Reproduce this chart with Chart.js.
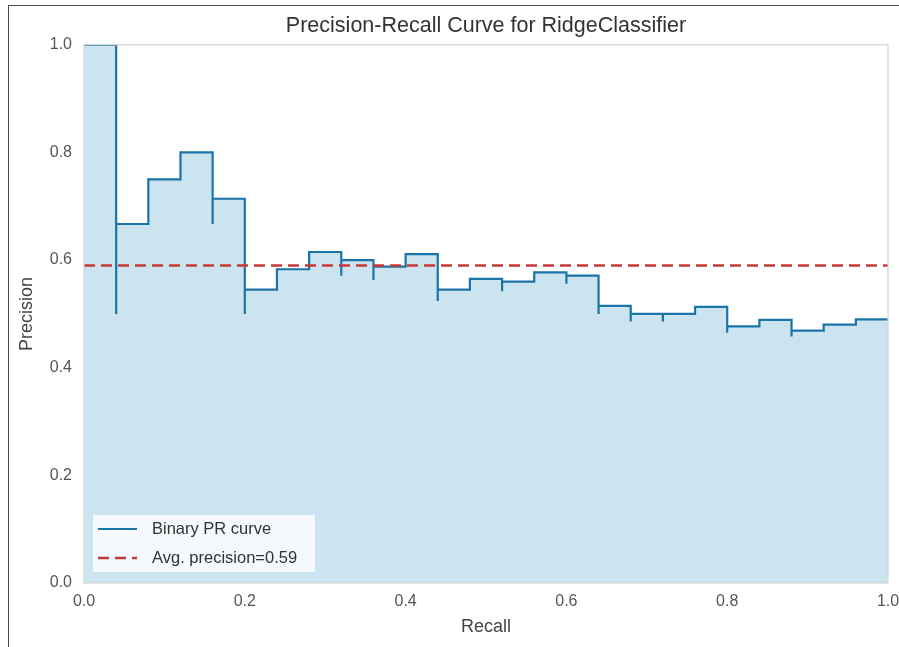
<!DOCTYPE html>
<html lang="en">
<head>
    <meta charset="UTF-8">
    <title>Precision-Recall Curve for RidgeClassifier</title>
    <script src="https://cdn.jsdelivr.net/npm/chart.js"></script>
    <style>
        body { margin: 0; background: #fff; }
        .wrap { position: relative; width: 899px; height: 647px; overflow: hidden; }
        .frame-top { position: absolute; left: 8px; top: 5px; right: 0; height: 1px; background: #4a4a4a; }
        .frame-left { position: absolute; left: 8px; top: 5px; bottom: 0; width: 1px; background: #4a4a4a; }
    </style>
</head>
<body>
    <div class="wrap">
        <canvas id="prChart" width="899" height="647"></canvas>
        <div class="frame-top"></div>
        <div class="frame-left"></div>
    </div>

    <script>
        // PR curve points, left to right (recall, precision)
        const recall = [0, 0.04, 0.04, 0.08, 0.12, 0.16, 0.16, 0.20, 0.20, 0.20, 0.20, 0.24, 0.28, 0.32, 0.32,
            0.36, 0.36, 0.40, 0.44, 0.44, 0.44, 0.44, 0.48, 0.52, 0.52, 0.56, 0.60, 0.60, 0.64, 0.64, 0.64,
            0.64, 0.64, 0.68, 0.68, 0.68, 0.72, 0.72, 0.76, 0.80, 0.80, 0.80, 0.80, 0.80, 0.84, 0.88, 0.88,
            0.88, 0.88, 0.92, 0.96, 1.00];
        const precision = [1.0, 1.0, 0.5, 0.667, 0.75, 0.8, 0.667, 0.714, 0.625, 0.556, 0.5, 0.545, 0.583, 0.615, 0.571,
            0.6, 0.563, 0.588, 0.611, 0.579, 0.55, 0.524, 0.545, 0.565, 0.542, 0.56, 0.577, 0.556, 0.571, 0.552, 0.533,
            0.516, 0.5, 0.515, 0.5, 0.486, 0.5, 0.486, 0.5, 0.513, 0.5, 0.488, 0.476, 0.465, 0.477, 0.489, 0.478,
            0.468, 0.458, 0.469, 0.48, 0.49];

        // average precision line
        const avgRecall = [0, 1];
        const avgPrecision = [0.59, 0.59];

        const tickValues = [0, 0.2, 0.4, 0.6, 0.8, 1.0];
        const legendLabels = ['Binary PR curve', 'Avg. precision=0.59'];

        const FONT = '"Liberation Sans", Arial, sans-serif';
        const BLUE = '#1b74a8';
        const RED = '#c8383a';
        const DASH = [11, 6];

        // grey box around the plot area + legend in lower-left corner
        const framePlugin = {
            id: 'frameAndLegend',
            afterDatasetsDraw(chart) {
                const { ctx, chartArea: a } = chart;
                ctx.save();
                ctx.strokeStyle = '#d4d4d4';
                ctx.lineWidth = 1.2;
                ctx.strokeRect(a.left, a.top, a.right - a.left, a.bottom - a.top);

                const bx = a.left + 9, by = a.bottom - 68, bw = 222, bh = 57;
                ctx.fillStyle = 'rgba(255,255,255,0.8)';
                ctx.fillRect(bx, by, bw, bh);

                const rows = [
                    { text: legendLabels[0], color: BLUE, dash: [], width: 2.2 },
                    { text: legendLabels[1], color: RED, dash: DASH, width: 2.5 }
                ];
                ctx.font = '16.5px ' + FONT;
                ctx.textBaseline = 'middle';
                rows.forEach((r, i) => {
                    const y = by + 14 + i * 29;
                    ctx.beginPath();
                    ctx.setLineDash(r.dash);
                    ctx.strokeStyle = r.color;
                    ctx.lineWidth = r.width;
                    ctx.moveTo(bx + 5, y);
                    ctx.lineTo(bx + 44, y);
                    ctx.stroke();
                    ctx.setLineDash([]);
                    ctx.fillStyle = '#333';
                    ctx.fillText(r.text, bx + 59, y);
                });
                ctx.restore();
            }
        };

        new Chart(document.getElementById('prChart'), {
            type: 'line',
            data: {
                datasets: [
                    {
                        label: legendLabels[1],
                        data: avgRecall.map((r, i) => ({ x: r, y: avgPrecision[i] })),
                        borderColor: RED,
                        borderWidth: 2.5,
                        borderDash: DASH,
                        pointRadius: 0,
                        fill: false,
                        order: 0
                    },
                    {
                        label: legendLabels[0],
                        data: recall.map((r, i) => ({ x: r, y: precision[i] })),
                        borderColor: BLUE,
                        borderWidth: 2.2,
                        backgroundColor: 'rgba(0,114,178,0.2)',
                        stepped: 'after',
                        pointRadius: 0,
                        fill: 'origin',
                        clip: 0,
                        order: 1
                    }
                ]
            },
            options: {
                responsive: false,
                animation: false,
                layout: { padding: { left: 0, right: 11, top: 0, bottom: 0 } },
                plugins: {
                    legend: { display: false },
                    tooltip: { enabled: false },
                    title: {
                        display: true,
                        fullSize: false,
                        text: 'Precision-Recall Curve for RidgeClassifier',
                        color: '#333',
                        font: { family: FONT, size: 21.5, weight: 'normal' },
                        padding: { top: 13, bottom: 6 }
                    }
                },
                scales: {
                    x: {
                        type: 'linear',
                        min: 0,
                        max: 1,
                        grid: { display: false, drawTicks: false },
                        border: { display: false },
                        afterBuildTicks: s => { s.ticks = tickValues.map(v => ({ value: v })); },
                        afterFit: s => { s.height = 64; s.paddingLeft = 0; s.paddingRight = 0; },
                        ticks: {
                            padding: 9,
                            color: '#555',
                            font: { family: FONT, size: 16 },
                            callback: v => v.toFixed(1),
                            maxRotation: 0
                        },
                        title: {
                            display: true,
                            text: 'Recall',
                            color: '#444',
                            font: { family: FONT, size: 18 },
                            padding: { top: 0, bottom: 9 }
                        }
                    },
                    y: {
                        min: 0,
                        max: 1,
                        grid: { display: false, drawTicks: false },
                        border: { display: false },
                        afterBuildTicks: s => { s.ticks = tickValues.map(v => ({ value: v })); },
                        afterFit: s => { s.width = 84; s.paddingTop = 0; s.paddingBottom = 0; },
                        ticks: {
                            padding: 12,
                            color: '#555',
                            font: { family: FONT, size: 16 },
                            callback: v => v.toFixed(1)
                        },
                        title: {
                            display: true,
                            text: 'Precision',
                            color: '#444',
                            font: { family: FONT, size: 18 },
                            padding: { top: 16, bottom: 0 }
                        }
                    }
                }
            },
            plugins: [framePlugin]
        });
    </script>
</body>
</html>
